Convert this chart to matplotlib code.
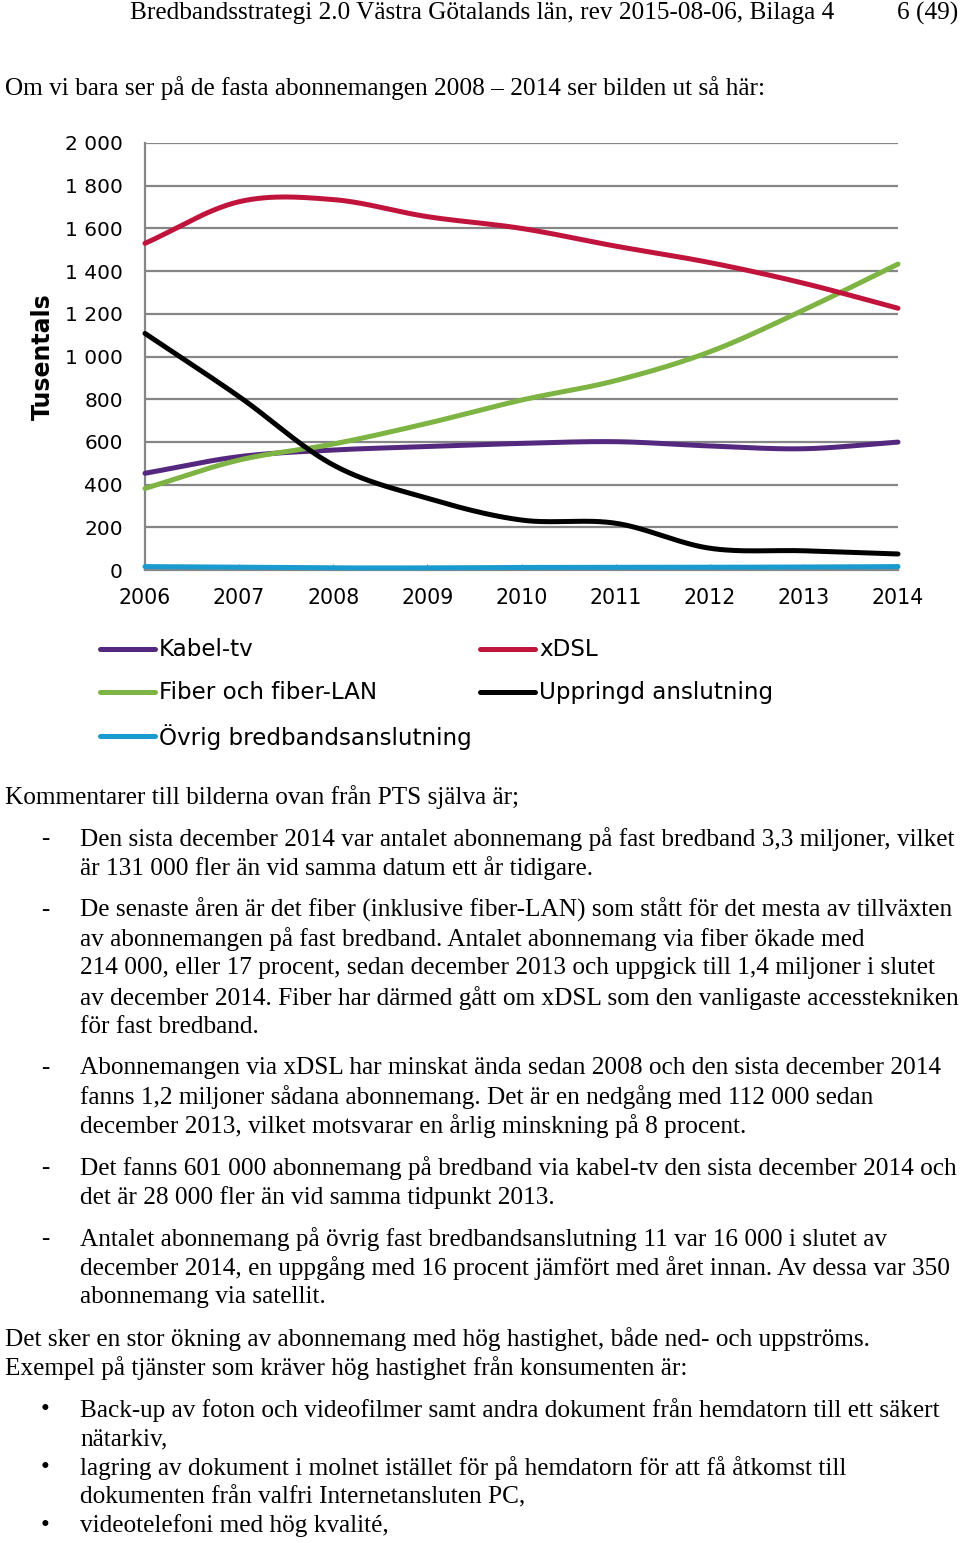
import matplotlib.pyplot as plt
import numpy as np
from matplotlib.lines import Line2D

# --- data (tusentals abonnemang) ---
years = [2006, 2007, 2008, 2009, 2010, 2011, 2012, 2013, 2014]
kabel = [453, 531, 562, 578, 593, 601, 581, 568, 599]
xdsl = [1530, 1725, 1735, 1655, 1600, 1517, 1440, 1343, 1226]
fiber = [382, 515, 590, 687, 796, 887, 1022, 1218, 1433]
uppringd = [1108, 812, 492, 336, 234, 219, 102, 90, 75]
ovrig = [16, 13, 10, 10, 12, 12, 13, 14, 16]

series_names = ['Kabel-tv', 'Fiber och fiber-LAN', 'Övrig bredbandsanslutning', 'xDSL', 'Uppringd anslutning']
series_values = [kabel, fiber, ovrig, xdsl, uppringd]
series_colors = ['#55287f', '#7db443', '#1a9bcf', '#c0143c', '#000000']

yticks = list(range(0, 2001, 200))

W, H = 960, 1543


def fx(px):
    return px / W


def fy(py):
    return 1 - py / H


def smooth(x, y, n=30):
    # catmull-rom style smoothing, like Excel's "smoothed line"
    x = np.asarray(x, float)
    y = np.asarray(y, float)
    xs, ys = [], []
    for i in range(len(x) - 1):
        p0 = y[i - 1] if i > 0 else y[i]
        p1, p2 = y[i], y[i + 1]
        p3 = y[i + 2] if i + 2 < len(y) else y[i + 1]
        m1 = (p2 - p0) / 2 if i > 0 else (p2 - p1)
        m2 = (p3 - p1) / 2 if i + 2 < len(y) else (p2 - p1)
        t = np.linspace(0, 1, n, endpoint=False)
        h00 = 2 * t**3 - 3 * t**2 + 1
        h10 = t**3 - 2 * t**2 + t
        h01 = -2 * t**3 + 3 * t**2
        h11 = t**3 - t**2
        xs.append(x[i] + t * (x[i + 1] - x[i]))
        ys.append(h00 * p1 + h10 * m1 + h01 * p2 + h11 * m2)
    xs.append([x[-1]])
    ys.append([y[-1]])
    return np.concatenate(xs), np.concatenate(ys)


fig = plt.figure(figsize=(W / 100, H / 100), dpi=100)
fig.patch.set_facecolor('white')

ax = fig.add_axes([fx(145), fy(570), fx(898 - 145), (570 - 143) / H])
grid_col = '#868686'

for vals, col in zip(series_values, series_colors):
    sx, sy = smooth(years, vals)
    ax.plot(sx, sy, color=col, lw=3.6, solid_capstyle='round', clip_on=False, zorder=3)

ax.set_xlim(2006, 2014)
ax.set_ylim(0, 2000)
ax.set_yticks(yticks)
ax.set_yticklabels([f'{v:,}'.replace(',', ' ') for v in yticks])
ax.set_xticks(years)
ax.set_xticklabels([str(y) for y in years])
ax.yaxis.grid(True, color=grid_col, lw=1.6)
ax.set_axisbelow(True)
for s in ['top', 'right']:
    ax.spines[s].set_visible(False)
for s in ['left', 'bottom']:
    ax.spines[s].set_color(grid_col)
    ax.spines[s].set_linewidth(1.6)
ax.tick_params(axis='y', length=0, pad=16, labelsize=14.5)
ax.tick_params(axis='x', direction='in', length=4, color=grid_col, pad=13, labelsize=14.8)

fig.text(fx(43), fy(357), 'Tusentals', rotation=90, fontsize=17, fontweight='bold',
         ha='center', va='center')

# legend (two columns, drawn by hand to match the layout)
leg_pos = [(100, 649), (100, 692), (100, 736), (480, 649), (480, 692)]
for (lx, ly), name, col in zip(leg_pos, series_names, series_colors):
    fig.add_artist(Line2D([fx(lx), fx(lx + 55)], [fy(ly), fy(ly)], color=col, lw=3.6,
                          solid_capstyle='round', transform=fig.transFigure))
    fig.text(fx(lx + 59), fy(ly + 1), name, fontsize=16.6, ha='left', va='center')

# --- page text ---
serif = 'Liberation Serif'
fs = 18.2

fig.text(fx(482), fy(13), 'Bredbandsstrategi 2.0 Västra Götalands län, rev 2015-08-06, Bilaga 4',
         family=serif, fontsize=fs, ha='center', va='center')
fig.text(fx(958), fy(13), '6 (49)', family=serif, fontsize=fs, ha='right', va='center')
fig.text(fx(5), fy(88), 'Om vi bara ser på de fasta abonnemangen 2008 – 2014 ser bilden ut så här:',
         family=serif, fontsize=fs, ha='left', va='center')
fig.text(fx(5), fy(797), 'Kommentarer till bilderna ovan från PTS själva är;',
         family=serif, fontsize=fs, ha='left', va='center')

dash_items = [
    (839, ['Den sista december 2014 var antalet abonnemang på fast bredband 3,3 miljoner, vilket',
           'är 131 000 fler än vid samma datum ett år tidigare.']),
    (910, ['De senaste åren är det fiber (inklusive fiber-LAN) som stått för det mesta av tillväxten',
           'av abonnemangen på fast bredband. Antalet abonnemang via fiber ökade med',
           '214 000, eller 17 procent, sedan december 2013 och uppgick till 1,4 miljoner i slutet',
           'av december 2014. Fiber har därmed gått om xDSL som den vanligaste accesstekniken',
           'för fast bredband.']),
    (1068, ['Abonnemangen via xDSL har minskat ända sedan 2008 och den sista december 2014',
            'fanns 1,2 miljoner sådana abonnemang. Det är en nedgång med 112 000 sedan',
            'december 2013, vilket motsvarar en årlig minskning på 8 procent.']),
    (1168, ['Det fanns 601 000 abonnemang på bredband via kabel-tv den sista december 2014 och',
            'det är 28 000 fler än vid samma tidpunkt 2013.']),
    (1239, ['Antalet abonnemang på övrig fast bredbandsanslutning 11 var 16 000 i slutet av',
            'december 2014, en uppgång med 16 procent jämfört med året innan. Av dessa var 350',
            'abonnemang via satellit.']),
]
line_h = 29.2
for y0, lines in dash_items:
    fig.text(fx(45), fy(y0), '-', family=serif, fontsize=fs, ha='center', va='center')
    for k, ln in enumerate(lines):
        fig.text(fx(80), fy(y0 + k * line_h), ln, family=serif, fontsize=fs, ha='left', va='center')

fig.text(fx(5), fy(1339), 'Det sker en stor ökning av abonnemang med hög hastighet, både ned- och uppströms.',
         family=serif, fontsize=fs, ha='left', va='center')
fig.text(fx(5), fy(1368), 'Exempel på tjänster som kräver hög hastighet från konsumenten är:',
         family=serif, fontsize=fs, ha='left', va='center')

bullet_items = [
    (1410, ['Back-up av foton och videofilmer samt andra dokument från hemdatorn till ett säkert',
            'nätarkiv,']),
    (1468, ['lagring av dokument i molnet istället för på hemdatorn för att få åtkomst till',
            'dokumenten från valfri Internetansluten PC,']),
    (1526, ['videotelefoni med hög kvalité,']),
]
for y0, lines in bullet_items:
    fig.text(fx(45), fy(y0), '•', family=serif, fontsize=fs, ha='center', va='center')
    for k, ln in enumerate(lines):
        fig.text(fx(80), fy(y0 + k * line_h), ln, family=serif, fontsize=fs, ha='left', va='center')

fig.savefig('out.png', dpi=100, facecolor='white')
